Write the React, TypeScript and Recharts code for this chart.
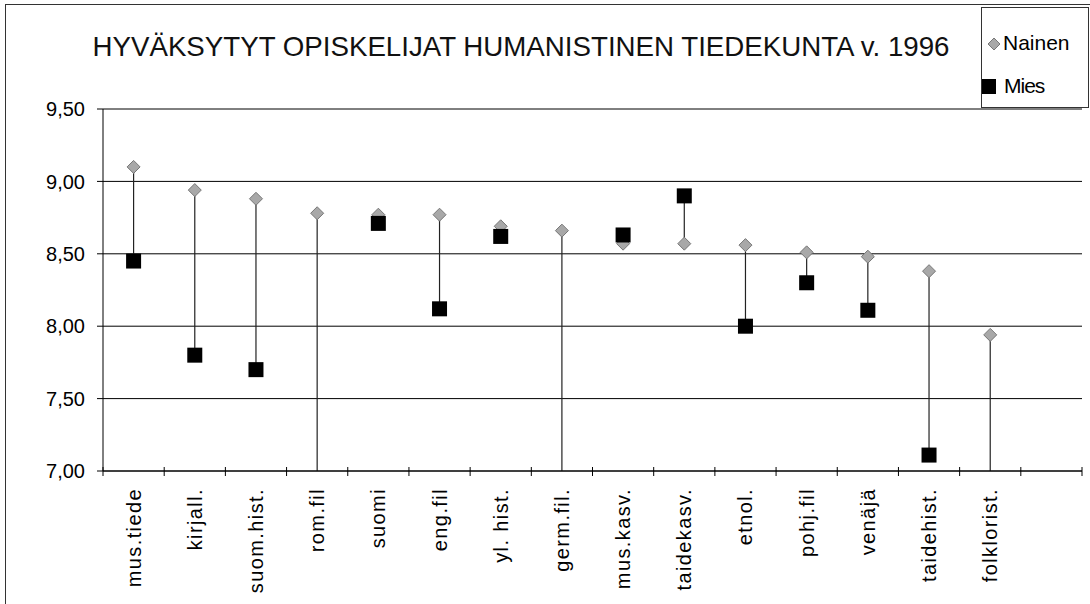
import React from 'react';
import { ComposedChart, Scatter, ErrorBar, XAxis, YAxis, CartesianGrid } from 'recharts';

const FONT = '"Liberation Sans", Arial, sans-serif';

const categories = [
  'mus.tiede', 'kirjall.', 'suom.hist.', 'rom.fil', 'suomi', 'eng.fil', 'yl. hist.', 'germ.fil.',
  'mus.kasv.', 'taidekasv.', 'etnol.', 'pohj.fil', 'venäjä', 'taidehist.', 'folklorist.',
];
const nainenValues = [9.10, 8.94, 8.88, 8.78, 8.77, 8.77, 8.69, 8.66, 8.57, 8.57, 8.56, 8.51, 8.48, 8.38, 7.94];
const miesValues: (number | null)[] = [8.45, 7.80, 7.70, null, 8.71, 8.12, 8.62, null, 8.63, 8.90, 8.00, 8.30, 8.11, 7.11, null];
const yTicks = [7, 7.5, 8, 8.5, 9, 9.5];
const slotCount = 16; // 15 categories + one empty slot at the end
// integer ticks = slot boundaries (tick marks), half ticks = category labels
const xTicks = [
  ...Array.from({ length: slotCount + 1 }, (_, i) => i),
  ...categories.map((_, i) => i + 0.5),
].sort((a, b) => a - b);

const Y_MIN = 7;
const Y_MAX = 9.5;

// high-low connector: from Nainen down/up to Mies (or to the axis floor when Mies is missing)
const nainenPts = categories.map((name, i) => {
  const n = nainenValues[i];
  const m = miesValues[i];
  const low = m === null ? Y_MIN : Math.min(n, m);
  const high = m === null ? n : Math.max(n, m);
  return { x: i + 0.5, y: n, name, span: [n - low, high - n] };
});
const miesPts = categories
  .map((name, i) => ({ x: i + 0.5, y: miesValues[i], name }))
  .filter((p) => p.y !== null);

const Diamond = (p: any) => {
  const { cx, cy } = p;
  const r = 6.5;
  return (
    <polygon
      points={`${cx},${cy - r} ${cx + r},${cy} ${cx},${cy + r} ${cx - r},${cy}`}
      fill="#a8a8a8"
      stroke="#777"
      strokeWidth={1}
    />
  );
};

const Square = (p: any) => {
  const { cx, cy } = p;
  return <rect x={cx - 7.5} y={cy - 7.5} width={15} height={15} fill="#000" />;
};

const XTick = (p: any) => {
  const v = p.payload.value;
  if (Number.isInteger(v)) {
    return <line x1={p.x} x2={p.x} y1={p.y - 4} y2={p.y + 5} stroke="#000" strokeWidth={1} />;
  }
  const ty = p.y + 17;
  return (
    <text
      x={p.x}
      y={ty}
      transform={`rotate(-90 ${p.x} ${ty})`}
      textAnchor="end"
      dominantBaseline="central"
      fontSize={20}
      letterSpacing={1.4}
      fontFamily={FONT}
      fill="#000"
    >
      {categories[Math.floor(v)]}
    </text>
  );
};

const fmt = (v: number) => v.toFixed(2).replace('.', ',');

const App = () => {
  return (
    <div
      style={{
        position: 'absolute',
        left: 5,
        top: 4,
        width: 1084,
        height: 599,
        borderLeft: '1px solid #333',
        borderTop: '1px solid #333',
        background: '#fff',
        fontFamily: FONT,
      }}
    >
      <div
        style={{
          position: 'absolute',
          left: 0,
          width: 1030,
          top: 26,
          textAlign: 'center',
          fontSize: 27.7,
          color: '#111',
          whiteSpace: 'nowrap',
        }}
      >
        HYVÄKSYTYT OPISKELIJAT HUMANISTINEN TIEDEKUNTA v. 1996
      </div>

      <div
        style={{
          position: 'absolute',
          left: 975,
          top: 2,
          width: 108,
          height: 101,
          border: '1px solid #333',
          boxSizing: 'border-box',
          fontSize: 21,
          color: '#000',
        }}
      >
        <svg width={14} height={14} style={{ position: 'absolute', left: 5, top: 29 }}>
          <polygon points="7,1 13,7 7,13 1,7" fill="#a8a8a8" stroke="#777" />
        </svg>
        <div style={{ position: 'absolute', left: 21, top: 23 }}>Nainen</div>
        <svg width={14} height={15} style={{ position: 'absolute', left: 0, top: 71 }}>
          <rect x={0} y={0} width={14} height={15} fill="#000" />
        </svg>
        <div style={{ position: 'absolute', left: 22, top: 66, letterSpacing: -1 }}>Mies</div>
      </div>

      <ComposedChart
        width={1084}
        height={599}
        margin={{ top: 104, right: 8, left: 0, bottom: 0 }}
        style={{ position: 'absolute', left: 0, top: 0 }}
      >
        <CartesianGrid vertical={false} stroke="#000" strokeWidth={1} />
        <XAxis
          type="number"
          dataKey="x"
          domain={[0, slotCount]}
          ticks={xTicks}
          interval={0}
          height={133}
          tickSize={0}
          tickMargin={0}
          tickLine={false}
          axisLine={{ stroke: '#000' }}
          allowDataOverflow
          tick={XTick}
        />
        <YAxis
          type="number"
          dataKey="y"
          domain={[Y_MIN, Y_MAX]}
          ticks={yTicks}
          interval={0}
          allowDataOverflow
          width={97}
          tickSize={6}
          tickMargin={12}
          tickFormatter={fmt}
          axisLine={{ stroke: '#000' }}
          tickLine={{ stroke: '#000' }}
          tick={{ fontSize: 20, fill: '#000', fontFamily: FONT }}
        />
        <Scatter name="Nainen" data={nainenPts} shape={Diamond} isAnimationActive={false}>
          <ErrorBar
            dataKey="span"
            direction="y"
            width={0}
            stroke="#222"
            strokeWidth={1.2}
            isAnimationActive={false}
          />
        </Scatter>
        <Scatter name="Mies" data={miesPts} shape={Square} isAnimationActive={false} />
      </ComposedChart>
    </div>
  );
};

export default App;
